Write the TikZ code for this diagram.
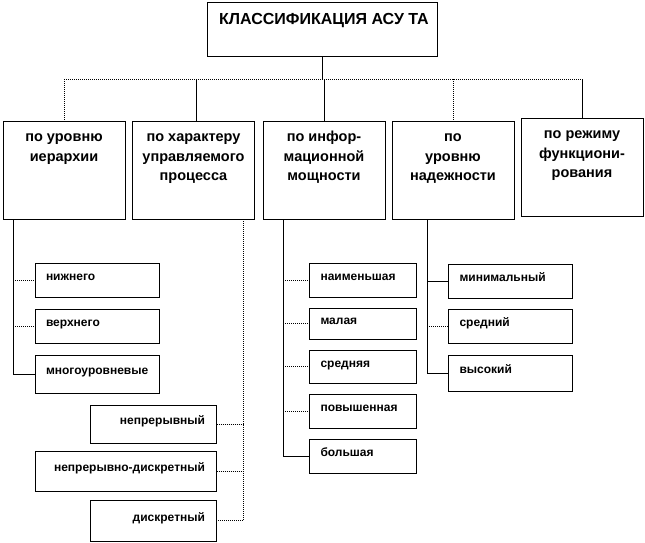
\documentclass[tikz,border=0pt]{standalone}
\usepackage{fontspec}
\setmainfont{Liberation Sans}
\usetikzlibrary{positioning, calc}

\tikzset{
  box/.style={draw, line width=1pt, inner sep=0pt},
  catbox/.style={box, minimum width=122, minimum height=98},
  cattext/.style={anchor=north, align=center, inner sep=0pt,
    font=\fontsize{14.5}{19.5}\selectfont\bfseries},
  leaf/.style={box, inner xsep=11pt, align=left, text height=8pt, text depth=7pt,
    font=\fontsize{12}{14}\selectfont\bfseries},
  leafr/.style={leaf, align=right},
  conn/.style={line width=1pt},
  dotconn/.style={line width=1pt, densely dotted},
}

\begin{document}
\begin{tikzpicture}[x=1pt, y=-1pt]
  \useasboundingbox (0,0) rectangle (645,543);

  % заголовок
  \node[box, minimum width=230, minimum height=54] (title) at (322,30) {};
  \node[anchor=base, inner sep=0pt, font=\fontsize{16}{19}\selectfont\bfseries] (titletext) at (324,24.5) {КЛАССИФИКАЦИЯ АСУ ТА};

  % признаки классификации
  \node[catbox] (c1) at (64,170) {};
  \node[catbox] (c2) at (193.5,170) {};
  \node[catbox] (c3) at (324,170) {};
  \node[catbox] (c4) at (453,170) {};
  \node[catbox] (c5) at (582,167) {};
  \node[cattext] (c1t) at ([yshift=-7.4pt]c1.north) {\strut по уровню\\иерархии};
  \node[cattext] (c2t) at ([yshift=-7.4pt]c2.north) {\strut по характеру\\управляемого\\процесса};
  \node[cattext] (c3t) at ([yshift=-7.4pt]c3.north) {\strut по инфор-\\мационной\\мощности};
  \node[cattext] (c4t) at ([yshift=-7.4pt]c4.north) {\strut по\\уровню\\надежности};
  \node[cattext] (c5t) at ([yshift=-7.4pt]c5.north) {\strut по режиму\\функциони-\\рования};

  % шина
  \coordinate (busL) at (64,79);
  \coordinate (busR) at (582,79);
  \coordinate (d2) at (196,79);
  \draw[conn] (title.south) -- (title.south |- busL);
  \draw[dotconn] (busL) -- (busR);
  \draw[dotconn] (busL) -- (c1.north);
  \draw[conn] (d2) -- (d2 |- c2.north);
  \draw[conn] (c3.north |- busL) -- (c3.north);
  \draw[dotconn] (c4.north |- busL) -- (c4.north);
  \draw[conn] (busR) -- (c5.north);

  % по уровню иерархии
  \foreach \n/\y/\h/\lbl in {a1/280/34/нижнего, a2/326/34/верхнего, a3/374/38/многоуровневые}
    \node[leaf, text width=102, minimum height=\h] (\n) at (97,\y) {\lbl};

  % по характеру процесса
  \node[leafr, text width=104, minimum height=38] (b1) at (153,424) {непрерывный};
  \node[leafr, text width=159, minimum height=40] (b2) at (125.5,471) {непрерывно-дискретный};
  \node[leafr, text width=104, minimum height=41] (b3) at (153,520.5) {дискретный};

  % по информационной мощности
  \foreach \n/\y/\h/\lbl in {d1/280/34/наименьшая, d2/323.5/31/малая, d3/366.5/33/средняя,
    d4/411/34/повышенная, d5/456/34/большая}
    \node[leaf, text width=85, minimum height=\h] (\n) at (363,\y) {\lbl};

  % по уровню надежности
  \foreach \n/\y/\h/\lbl in {e1/281/34/минимальный, e2/326/34/средний, e3/373/36/высокий}
    \node[leaf, text width=102, minimum height=\h] (\n) at (510.5,\y) {\lbl};

  % связи
  \coordinate (v1) at (13,219);
  \draw[conn] (v1) |- (a3.west);
  \foreach \n in {a1,a2}
    \draw[dotconn] (v1 |- \n.west) -- (\n.west);

  \coordinate (v2) at (243,219);
  \draw[dotconn] (v2) |- (b3.east);
  \foreach \n in {b1,b2}
    \draw[dotconn] (\n.east) -- (v2 |- \n.east);

  \coordinate (v3) at (283,219);
  \draw[conn] (v3) |- (d5.west);
  \foreach \i in {1,...,4}
    \draw[dotconn] (v3 |- d\i.west) -- (d\i.west);

  \coordinate (v4) at (427,219);
  \draw[conn] (v4) |- (e3.west);
  \draw[conn] (v4 |- e1.west) -- (e1.west);
  \draw[dotconn] (v4 |- e2.west) -- (e2.west);
\end{tikzpicture}
\end{document}
